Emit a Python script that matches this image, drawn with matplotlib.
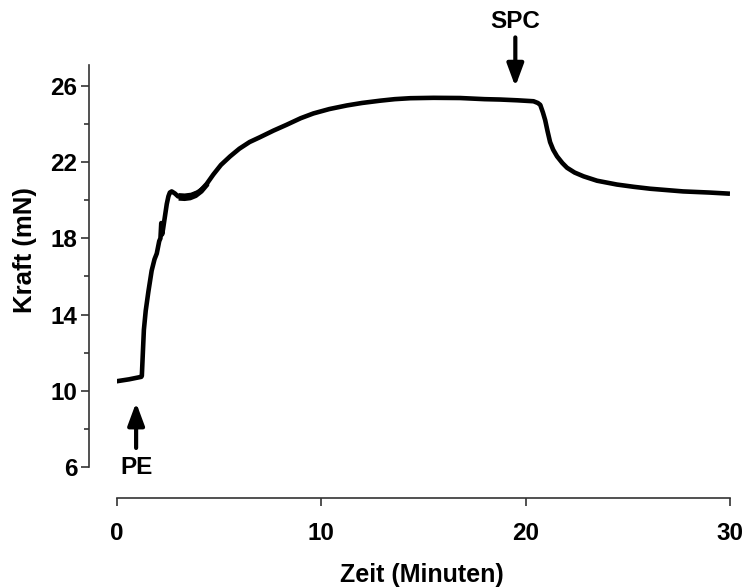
import matplotlib
matplotlib.use("Agg")
import matplotlib.pyplot as plt

# force trace (mN) over time (min)
TIME = [0.0, 0.6, 1.2, 1.23, 1.28, 1.33, 1.42, 1.55, 1.71, 1.85, 1.96,
        2.08, 2.14, 2.18, 2.22, 2.27, 2.36, 2.45, 2.53, 2.6, 2.69, 2.85,
        3.0, 3.3, 3.6, 3.9, 4.1, 4.4, 4.73, 5.1, 5.55, 6.0, 6.5, 7.0, 7.67,
        8.3, 9.0, 9.62, 10.4, 11.26, 12.0, 12.89, 13.6, 14.36, 15.5, 16.8,
        18.0, 18.76, 19.6, 20.39, 20.6, 20.72, 20.85, 20.96, 21.08, 21.2,
        21.35, 21.54, 21.8, 22.03, 22.4, 22.84, 23.5, 24.47, 25.3, 26.1,
        27.7, 29.0, 30.0]
FORCE = [10.5, 10.6, 10.73, 10.78, 12.0, 13.2, 14.2, 15.2, 16.3, 16.9,
         17.2, 17.85, 18.0, 18.8, 18.2, 18.5, 19.15, 19.8, 20.2, 20.4,
         20.46, 20.35, 20.2, 20.18, 20.22, 20.35, 20.5, 20.85, 21.35, 21.85,
         22.3, 22.7, 23.05, 23.3, 23.65, 23.95, 24.3, 24.55, 24.78, 24.97,
         25.1, 25.22, 25.3, 25.35, 25.37, 25.36, 25.3, 25.28, 25.24, 25.19,
         25.1, 25.0, 24.6, 24.2, 23.6, 23.05, 22.65, 22.3, 21.95, 21.7,
         21.45, 21.25, 21.02, 20.82, 20.7, 20.6, 20.46, 20.4, 20.34]

# noisy stretch right after the first plateau
BAND_TIME = [3.0, 3.3, 3.6, 3.9, 4.2, 4.5]
BAND_LOW = [20.0, 19.98, 20.02, 20.15, 20.4, 20.78]
BAND_HIGH = [20.4, 20.38, 20.42, 20.55, 20.8, 21.18]

EVENTS = ["PE", "SPC"]
EVENT_TIMES = [0.95, 19.5]

X_TICKS = [0, 10, 20, 30]
Y_MAJOR = [6, 10, 14, 18, 22, 26]
Y_MINOR = [8, 12, 16, 20, 24]

plt.rcParams["font.family"] = ["Liberation Sans", "DejaVu Sans"]

fig = plt.figure(figsize=(7.49, 5.87), dpi=100)
ax = fig.add_axes([0.1558, 0.2044, 0.8188, 0.6848])

ax.plot(TIME, FORCE, color="black", linewidth=3.3, solid_capstyle="butt",
        solid_joinstyle="round")
ax.fill_between(BAND_TIME, BAND_LOW, BAND_HIGH, color="black", linewidth=0)

ax.set_xlim(0, 30)
ax.set_ylim(6, 27.09)

for side in ("top", "right"):
    ax.spines[side].set_visible(False)
ax.spines["left"].set_position(("outward", 19.9))
ax.spines["bottom"].set_position(("outward", 22.5))
ax.spines["bottom"].set_bounds(0, 30)
for side in ("left", "bottom"):
    ax.spines[side].set_color("#333333")
    ax.spines[side].set_linewidth(1.2)

ax.set_xticks(X_TICKS)
ax.set_yticks(Y_MAJOR)
ax.set_yticks(Y_MINOR, minor=True)
ax.tick_params(axis="both", which="major", direction="out", length=6,
               width=1.2, color="#333333", labelsize=17.5)
ax.tick_params(axis="x", pad=11)
ax.tick_params(axis="y", pad=2.5)
ax.tick_params(axis="y", which="minor", direction="out", length=3.5,
               width=1.2, color="#333333")
for lab in ax.get_xticklabels() + ax.get_yticklabels():
    lab.set_fontweight("bold")

ax.set_xlabel("Zeit (Minuten)", fontsize=18, fontweight="bold", va="center")
ax.xaxis.set_label_coords(0.498, -0.269)
ax.set_ylabel("Kraft (mN)", fontsize=18.5, fontweight="bold", va="center")
ax.yaxis.set_label_coords(-0.1495, 0.54)

# event markers: PE from below, SPC from above
arrow_kw = dict(arrowstyle="-|>,head_length=1.35,head_width=0.5",
                color="black", lw=3, shrinkA=0, shrinkB=0)
pe_t, spc_t = EVENT_TIMES
ax.annotate("", xy=(pe_t, 9.38), xytext=(pe_t, 7.0),
            arrowprops=arrow_kw, annotation_clip=False)
ax.text(pe_t, 6.0, EVENTS[0], ha="center", va="center", fontsize=17.5,
        fontweight="bold", clip_on=False)
ax.annotate("", xy=(spc_t, 25.96), xytext=(spc_t, 28.54),
            arrowprops=arrow_kw, annotation_clip=False)
ax.text(spc_t, 29.38, EVENTS[1], ha="center", va="center", fontsize=17.5,
        fontweight="bold", clip_on=False)

fig.savefig("out.png", dpi=100, facecolor="white")
